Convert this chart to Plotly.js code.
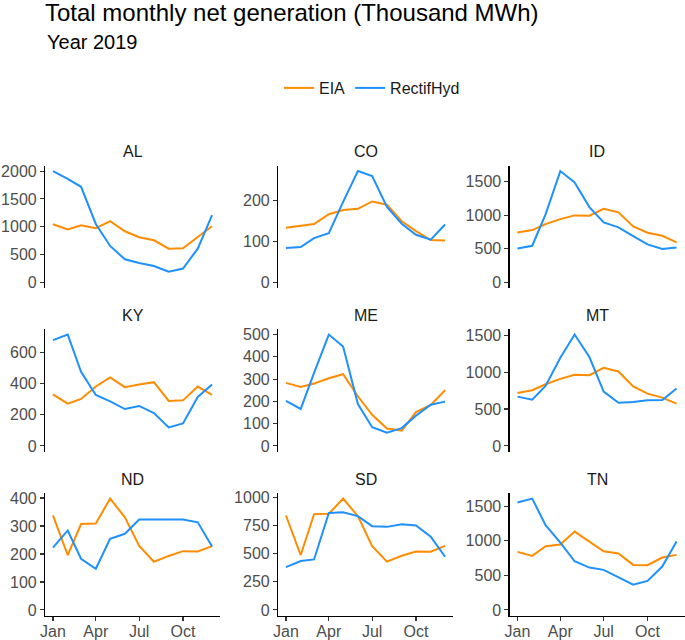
<!DOCTYPE html>
<html><head><meta charset="utf-8">
<script src="https://cdn.plot.ly/plotly-3.0.1.min.js"></script>
<style>html,body{margin:0;padding:0;background:#fff}</style>
</head><body><div id="chart" style="width:685px;height:640px"></div>
<script>
const months = ['2019-01-01','2019-02-01','2019-03-01','2019-04-01','2019-05-01','2019-06-01','2019-07-01','2019-08-01','2019-09-01','2019-10-01','2019-11-01','2019-12-01'];
const states = ['AL','CO','ID','KY','ME','MT','ND','SD','TN'];
const seriesNames = ['EIA','RectifHyd'];

const eiaAL = [1045, 950, 1027, 973, 1100, 919, 811, 757, 607, 613, 817, 1009];
const rectAL = [2000, 1860, 1718, 1050, 655, 415, 350, 295, 192, 250, 607, 1207];
const eiaCO = [133, 137, 142, 166, 176, 179, 197, 189, 149, 125, 103, 102];
const rectCO = [84, 86, 108, 120, 196, 271, 259, 184, 143, 116, 104, 141];
const eiaID = [745, 780, 869, 943, 998, 993, 1097, 1043, 834, 740, 695, 596];
const rectID = [506, 546, 1013, 1658, 1489, 1122, 894, 819, 690, 566, 497, 521];
const eiaKY = [332, 272, 302, 382, 440, 378, 395, 410, 289, 293, 382, 328];
const rectKY = [680, 716, 477, 328, 287, 237, 257, 211, 119, 145, 315, 395];
const eiaME = [283, 265, 280, 304, 322, 223, 140, 78, 69, 152, 184, 250];
const rectME = [202, 166, 328, 500, 446, 188, 84, 59, 80, 136, 185, 199];
const eiaMT = [718, 755, 836, 909, 964, 959, 1059, 1009, 805, 709, 655, 573];
const rectMT = [668, 627, 814, 1195, 1509, 1205, 736, 586, 595, 618, 623, 777];
const eiaND = [338, 196, 307, 309, 398, 331, 229, 172, 193, 210, 209, 228];
const rectND = [223, 284, 183, 147, 254, 272, 323, 323, 323, 323, 313, 227];
const eiaSD = [838, 487, 850, 853, 988, 832, 566, 428, 481, 519, 516, 569];
const rectSD = [380, 434, 448, 861, 867, 832, 743, 737, 761, 749, 649, 472];
const eiaTN = [839, 781, 921, 945, 1133, 988, 849, 815, 651, 646, 757, 796];
const rectTN = [1552, 1610, 1225, 974, 704, 612, 579, 473, 366, 420, 627, 988];

const yTickStep = [500, 100, 500, 200, 100, 500, 100, 250, 500];
const xTickVals = ['2019-01-01','2019-04-01','2019-07-01','2019-10-01'];
const xTickText = ['Jan','Apr','Jul','Oct'];

const eiaData = [eiaAL, eiaCO, eiaID, eiaKY, eiaME, eiaMT, eiaND, eiaSD, eiaTN];
const rectData = [rectAL, rectCO, rectID, rectKY, rectME, rectMT, rectND, rectSD, rectTN];

const W = 685, H = 640;
const colors = ['#FF8C00', '#1E90FF'];
const colPx = [[45, 220], [278, 453], [509.5, 684.5]];
const rowPx = [[165.5, 288], [329, 451.5], [493, 615.5]];

function fmt(ms) {
  const d = new Date(ms);
  const p = n => String(n).padStart(2, '0');
  return d.getUTCFullYear() + '-' + p(d.getUTCMonth()+1) + '-' + p(d.getUTCDate()) + ' ' + p(d.getUTCHours()) + ':' + p(d.getUTCMinutes()) + ':' + p(d.getUTCSeconds());
}
const t0 = Date.parse(months[0] + 'T00:00:00Z');
const t1 = Date.parse(months[months.length-1] + 'T00:00:00Z');
const xpad = 0.05 * (t1 - t0);
const xRange = [fmt(t0 - xpad), fmt(t1 + xpad)];

const traces = [];
const layout = {
  width: W, height: H, autosize: false,
  margin: {l: 0, r: 0, t: 0, b: 0},
  paper_bgcolor: '#fff', plot_bgcolor: '#fff',
  font: {family: 'Liberation Sans, Arial, sans-serif', color: '#000'},
  title: {text: 'Total monthly net generation (Thousand MWh)', font: {size: 24, color: '#000'},
          x: 45 / W, xanchor: 'left', xref: 'container', y: 1 - 4 / H, yanchor: 'top', yref: 'container'},
  showlegend: true,
  legend: {orientation: 'h', x: 372 / W, xanchor: 'center', y: 1 - 88 / H, yanchor: 'middle',
           font: {size: 16, color: '#1a1a1a'}, bgcolor: 'rgba(0,0,0,0)'},
  annotations: [{text: 'Year 2019', xref: 'paper', yref: 'paper', x: 45 / W, xanchor: 'left',
                 y: 1 - 29 / H, yanchor: 'top', showarrow: false, font: {size: 20, color: '#000'}}],
};

states.forEach((st, i) => {
  const r = Math.floor(i / 3), c = i % 3;
  const n = i + 1;
  const xa = n === 1 ? 'x' : 'x' + n;
  const ya = n === 1 ? 'y' : 'y' + n;
  const series = [eiaData[i], rectData[i]];
  series.forEach((vals, k) => {
    traces.push({x: months, y: vals, type: 'scatter', mode: 'lines', name: seriesNames[k],
      legendgroup: seriesNames[k], showlegend: i === 0, xaxis: xa, yaxis: ya,
      line: {color: colors[k], width: 2}, hoverinfo: 'skip'});
  });
  const ymax = Math.max(...series[0], ...series[1]);
  const ymin = 0;
  const pad = 0.05 * (ymax - ymin);
  const bottom = r === 2;
  layout[n === 1 ? 'xaxis' : 'xaxis' + n] = {
    domain: [colPx[c][0] / W, colPx[c][1] / W], anchor: ya, type: 'date', range: xRange,
    showgrid: false, zeroline: false,
    showline: bottom, linecolor: '#000', linewidth: 1.1,
    ticks: bottom ? 'outside' : '', ticklen: 4, tickwidth: 1.1, tickcolor: '#333',
    showticklabels: bottom, tickmode: 'array', tickvals: xTickVals, ticktext: xTickText,
    ticklabelstandoff: -3,
    tickfont: {size: 16, color: '#4d4d4d'}, fixedrange: true
  };
  layout[n === 1 ? 'yaxis' : 'yaxis' + n] = {
    domain: [1 - rowPx[r][1] / H, 1 - rowPx[r][0] / H], anchor: xa,
    range: [ymin - pad, ymax + pad], showgrid: false, zeroline: false,
    showline: true, linecolor: '#000', linewidth: 1.1,
    ticks: 'outside', ticklen: 4, tickwidth: 1.1, tickcolor: '#333',
    tickmode: 'linear', tick0: 0, dtick: yTickStep[i],
    tickfont: {size: 16, color: '#4d4d4d'}, fixedrange: true
  };
  layout.annotations.push({text: st, xref: 'paper', yref: 'paper',
    x: (colPx[c][0] + colPx[c][1]) / 2 / W, xanchor: 'center',
    y: 1 - (rowPx[r][0] - 14) / H, yanchor: 'middle', showarrow: false,
    font: {size: 16, color: '#1a1a1a'}});
});

Plotly.newPlot('chart', traces, layout, {displayModeBar: false, staticPlot: true});
</script>
</body></html>
